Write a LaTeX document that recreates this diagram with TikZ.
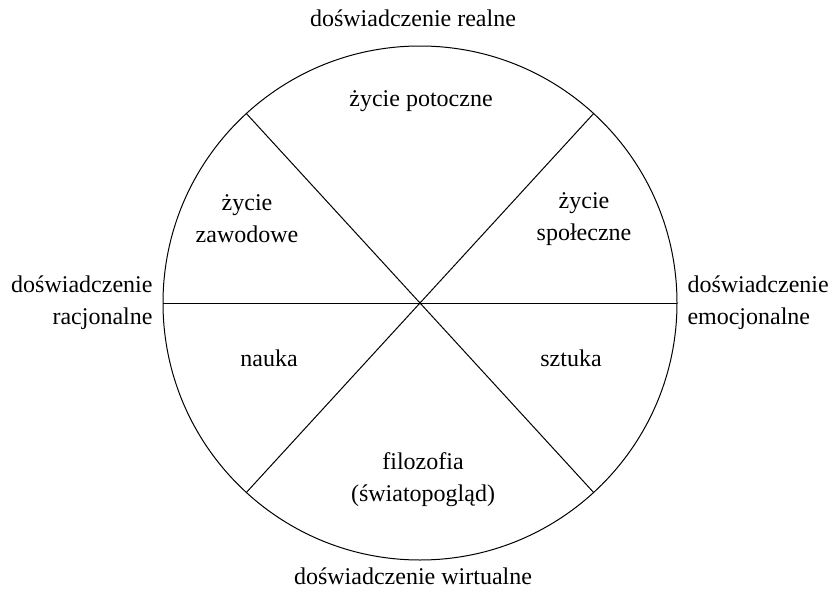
\documentclass[tikz,border=0pt]{standalone}
\usepackage{fontspec}
\setmainfont{Liberation Serif}
\begin{document}
\begin{tikzpicture}[x=1pt,y=-1pt,line width=1pt,
  lbl/.style={font=\fontsize{24}{32}\selectfont, inner sep=0pt, align=center}]
\useasboundingbox (0,0) rectangle (831,589);
\coordinate (c) at (420,303);
\draw (c) circle[radius=257];
\coordinate (L) at ([shift={(180:257)}]c);
\coordinate (R) at ([shift={(0:257)}]c);
\coordinate (A1) at ([shift={(132.5:257)}]c);
\coordinate (A2) at ([shift={(-47.5:257)}]c);
\coordinate (B1) at ([shift={(47.5:257)}]c);
\coordinate (B2) at ([shift={(-132.5:257)}]c);
\draw (L) -- (R);
\draw (A1) -- (A2);
\draw (B1) -- (B2);
\node[lbl, anchor=base] (top) at (413,27) {doświadczenie realne};
\node[lbl, anchor=base] (bot) at (413,584) {doświadczenie wirtualne};
\node[lbl, anchor=east, align=right] (left) at (153,303) {doświadczenie\\racjonalne};
\node[lbl, anchor=west, align=left] (right) at (687,303) {doświadczenie\\emocjonalne};
\node[lbl, anchor=base] (pot) at (421,106) {życie potoczne};
\node[lbl] (zaw) at (247,219) {życie\\zawodowe};
\node[lbl] (spo) at (584,219) {życie\\społeczne};
\node[lbl, anchor=base] (nau) at (269,366) {nauka};
\node[lbl, anchor=base] (szt) at (571,366) {sztuka};
\node[lbl] (fil) at (423,480) {filozofia\\(światopogląd)};
\end{tikzpicture}
\end{document}
